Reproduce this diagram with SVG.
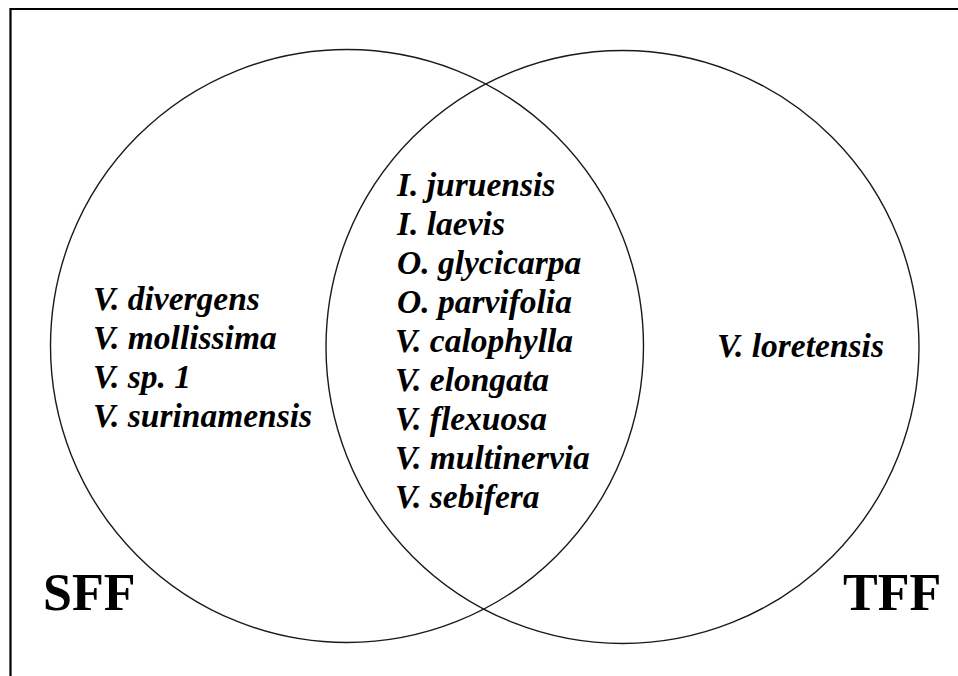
<svg xmlns="http://www.w3.org/2000/svg" width="958" height="676" viewBox="0 0 958 676">
<style>
.c{fill:none;stroke:#1a1a1a;stroke-width:1.4}
.sp{font-family:"Liberation Serif","Times New Roman",serif;font-weight:bold;font-style:italic;font-size:33.5px;fill:#000}
.lb{font-family:"Liberation Serif","Times New Roman",serif;font-weight:bold;font-size:52px;fill:#000}
</style>
<rect width="958" height="676" fill="#fff"/>
<path d="M10.5,677 V9 H960" fill="none" stroke="#000" stroke-width="2.2"/>
<g id="sff">
<circle class="c" cx="347" cy="346" r="296.5"/>
<text class="lb" x="43" y="610">SFF</text>
</g>
<g id="tff">
<circle class="c" cx="622.5" cy="347" r="296.5"/>
<text class="lb" x="843" y="610">TFF</text>
</g>
<g id="sff-only">
<text class="sp" x="93" y="310">V. divergens</text>
<text class="sp" x="93" y="349">V. mollissima</text>
<text class="sp" x="93" y="388">V. sp. 1</text>
<text class="sp" x="93" y="427">V. surinamensis</text>
</g>
<g id="shared">
<text class="sp" x="397" y="196">I. juruensis</text>
<text class="sp" x="397" y="235">I. laevis</text>
<text class="sp" x="397" y="274">O. glycicarpa</text>
<text class="sp" x="397" y="313">O. parvifolia</text>
<text class="sp" x="395" y="352">V. calophylla</text>
<text class="sp" x="395" y="391">V. elongata</text>
<text class="sp" x="395" y="430">V. flexuosa</text>
<text class="sp" x="395" y="469">V. multinervia</text>
<text class="sp" x="395" y="508">V. sebifera</text>
</g>
<g id="tff-only">
<text class="sp" x="717" y="357">V. loretensis</text>
</g>
<g id="connectors"></g>
</svg>
